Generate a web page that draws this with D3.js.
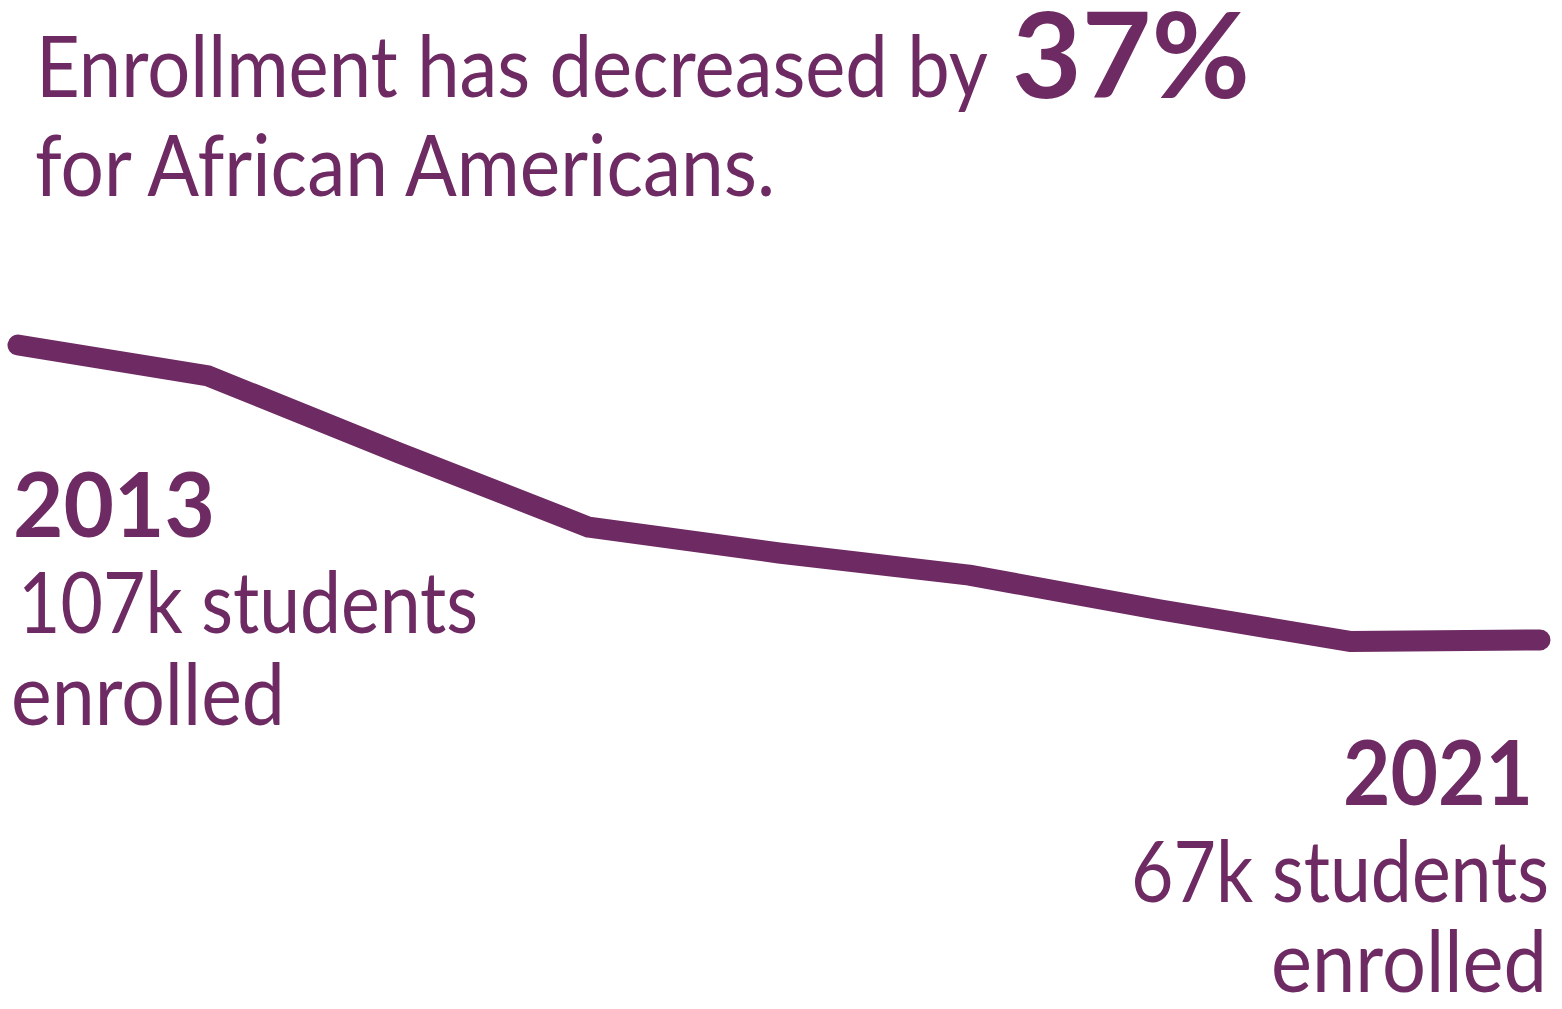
<!DOCTYPE html>
<html>
<head>
<meta charset="utf-8">
<script src="https://cdn.jsdelivr.net/npm/d3@7"></script>
<style>
  html, body { margin: 0; padding: 0; background: #ffffff; }
  svg { display: block; }
  text { font-family: Lato, "Noto Sans", sans-serif; fill: #6e2a62; }
</style>
</head>
<body>
<svg id="chart" width="1562" height="1009"></svg>
<script>
// Enrollment (thousands of students), African American students
const years = [2013, 2014, 2015, 2016, 2017, 2018, 2019, 2020, 2021];
const enrollment = [107, 102.8, 92.4, 82.3, 78.8, 75.8, 71.1, 66.8, 67];
const headlineText = ["Enrollment has decreased by", "37%", "for African Americans."];
const startLabel = ["2013", "107k students", "enrolled"];
const endLabel = ["2021", "67k students", "enrolled"];

const color = "#6e2a62";
const svg = d3.select("#chart");

const x = d3.scaleLinear().domain([2013, 2021]).range([18, 1540]);
const y = d3.scaleLinear().domain([67, 107]).range([640, 345]);

// trend line
const line = d3.line()
  .x((d, i) => x(years[i]))
  .y(d => y(d));

svg.append("path")
  .datum(enrollment)
  .attr("d", line)
  .attr("fill", "none")
  .attr("stroke", color)
  .attr("stroke-width", 21)
  .attr("stroke-linecap", "round")
  .attr("stroke-linejoin", "round");

// text fitted to a fixed width, starting at px
function label(txt, px, py, size, weight, width) {
  return svg.append("text")
    .attr("x", px).attr("y", py)
    .attr("font-size", size)
    .attr("font-weight", weight)
    .attr("textLength", width)
    .attr("lengthAdjust", "spacingAndGlyphs")
    .text(txt);
}
// right-aligned variant: ends at the given right edge
function labelRight(txt, right, py, size, weight, width) {
  return label(txt, right - width, py, size, weight, width);
}

// headline
label(headlineText[0], 36, 97, 86, 400, 952);
label(headlineText[1], 1012, 98, 118, 700, 238);
label(headlineText[2], 35, 196, 86, 400, 740);

// start annotation
label(startLabel[0], 13, 537, 90, 700, 202);
label(startLabel[1], 18, 633, 86, 400, 460);
label(startLabel[2], 11, 725, 86, 400, 274);

// end annotation
labelRight(endLabel[0], 1533, 805, 90, 700, 190);
labelRight(endLabel[1], 1549, 902, 86, 400, 418);
labelRight(endLabel[2], 1547, 992, 86, 400, 276);
</script>
</body>
</html>
